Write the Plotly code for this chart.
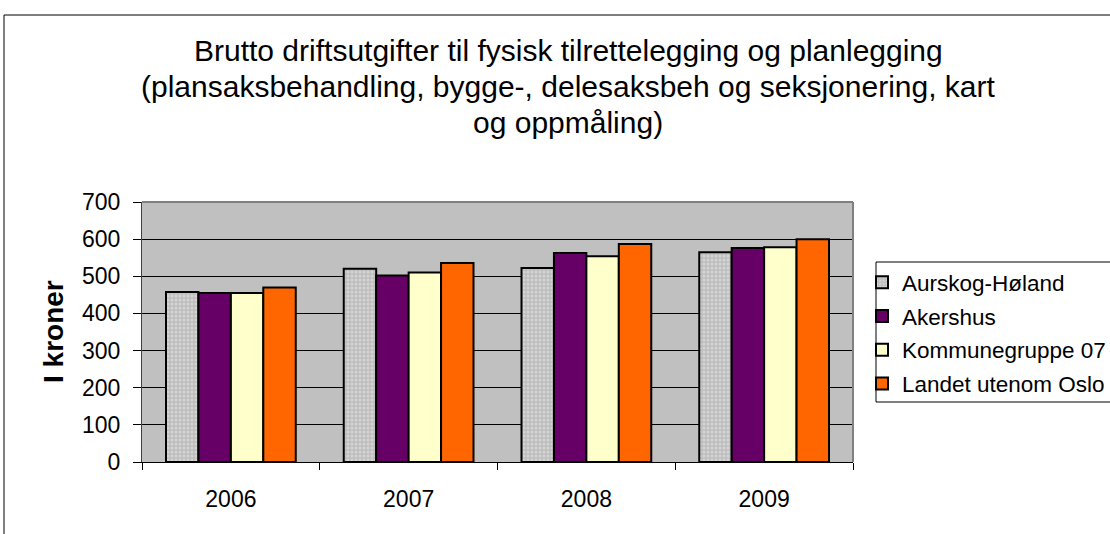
import plotly.graph_objects as go

# Data
years = ["2006", "2007", "2008", "2009"]
aurskog_holand = [458, 520, 522, 565]
akershus = [455, 502, 563, 576]
kommunegruppe_07 = [455, 510, 554, 578]
landet_utenom_oslo = [470, 536, 587, 600]

series_names = ["Aurskog-Høland", "Akershus", "Kommunegruppe 07", "Landet utenom Oslo"]
series_values = [aurskog_holand, akershus, kommunegruppe_07, landet_utenom_oslo]
series_colors = ["#c8c8c8", "#660066", "#ffffcc", "#ff6600"]

title_lines = [
    "Brutto driftsutgifter til fysisk tilrettelegging og planlegging",
    "(plansaksbehandling, bygge-, delesaksbeh og seksjonering, kart",
    "og oppmåling)",
]

FONT = "Liberation Sans, Arial, Helvetica, sans-serif"
W, H = 1110, 534
L, R, T, B = 142, 257, 202, 72
pw, ph = W - L - R, H - T - B


def px_x(x):
    return (x - L) / pw


def px_y(y):
    return (H - B - y) / ph


fig = go.Figure()
for i, (name, vals, col) in enumerate(zip(series_names, series_values, series_colors)):
    marker = dict(color=col, line=dict(color="black", width=2))
    if i == 0:
        marker["pattern"] = dict(shape=".", bgcolor="#bdbdbd", fgcolor="#ececec",
                                 size=4, solidity=0.45, fillmode="overlay")
    fig.add_trace(go.Bar(x=years, y=vals, name=name, marker=marker,
                         legendgroup=name))

shapes = [
    # outer chart frame
    dict(type="rect", xref="paper", yref="paper",
         x0=px_x(4), x1=px_x(1120), y0=px_y(545), y1=px_y(15),
         line=dict(color="black", width=1), fillcolor="rgba(0,0,0,0)", layer="below"),
    # plot-area border (top/right)
    dict(type="line", xref="paper", yref="paper", x0=0, x1=1, y0=1, y1=1,
         line=dict(color="#808080", width=2)),
    dict(type="line", xref="paper", yref="paper", x0=1, x1=1, y0=0, y1=1,
         line=dict(color="#808080", width=2)),
    # legend box
    dict(type="rect", xref="paper", yref="paper",
         x0=px_x(876), x1=px_x(1120), y0=px_y(402), y1=px_y(262),
         line=dict(color="black", width=1), fillcolor="white", layer="below"),
]

annotations = []
for k, line in enumerate(title_lines):
    annotations.append(dict(
        text=line, xref="paper", yref="paper", x=px_x(568), y=px_y(50 + 36.5 * k),
        xanchor="center", yanchor="middle", showarrow=False,
        font=dict(family=FONT, size=30, color="black")))
annotations.append(dict(
    text="<b>I kroner</b>", xref="paper", yref="paper", x=px_x(53), y=0.5,
    xanchor="center", yanchor="middle", textangle=-90, showarrow=False,
    font=dict(family=FONT, size=28, color="black")))

fig.update_layout(
    width=W, height=H,
    margin=dict(l=L, r=R, t=T, b=B, autoexpand=False),
    paper_bgcolor="white",
    plot_bgcolor="#c0c0c0",
    barmode="group",
    bargap=0.27,
    bargroupgap=0,
    font=dict(family=FONT, size=23, color="black"),
    showlegend=True,
    legend=dict(x=px_x(862), y=px_y(261), xanchor="left", yanchor="top",
                bgcolor="rgba(0,0,0,0)", borderwidth=0,
                traceorder="grouped", tracegroupgap=1.5,
                font=dict(family=FONT, size=22.5, color="black")),
    shapes=shapes,
    annotations=annotations,
)
fig.update_xaxes(
    showgrid=False, showline=True, linecolor="black", linewidth=1,
    ticks="outside", tickson="boundaries", ticklen=7, tickcolor="black",
    ticklabelstandoff=16, tickfont=dict(size=23),
)
fig.update_yaxes(
    range=[0, 700], dtick=100, showgrid=True, gridcolor="black", gridwidth=1,
    showline=True, linecolor="#404040", linewidth=1,
    ticks="outside", ticklen=8, tickcolor="black", tickfont=dict(size=23),
    ticklabelstandoff=8, zeroline=False,
)

fig.write_html("out.html")
